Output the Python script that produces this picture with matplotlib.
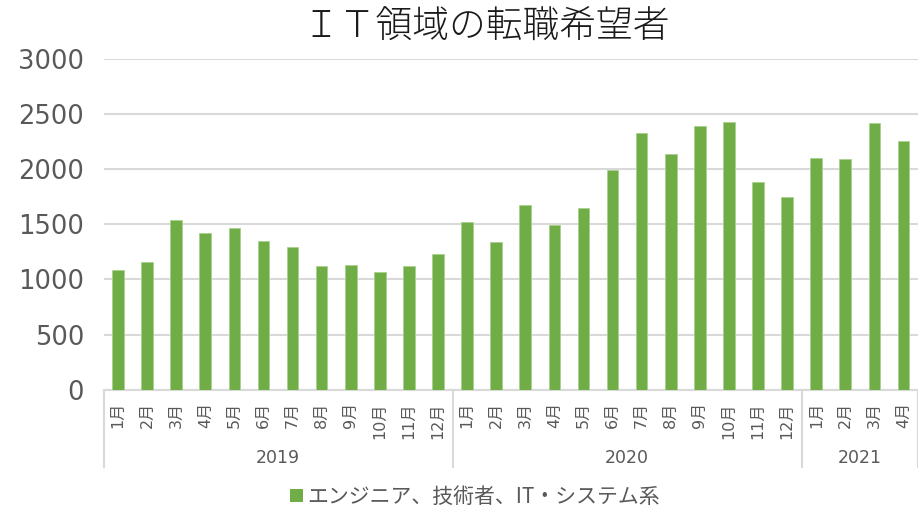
import matplotlib
matplotlib.use("Agg")
import matplotlib.pyplot as plt
from matplotlib.patches import Patch
from matplotlib.transforms import blended_transform_factory

plt.rcParams['font.family'] = ['DejaVu Sans', 'Noto Sans CJK JP']

title = "ＩＴ領域の転職希望者"
series_name = "エンジニア、技術者、IT・システム系"
years = ["2019", "2020", "2021"]
months_per_year = [12, 12, 4]
month_labels = ([f"{m}月" for m in range(1, 13)] + [f"{m}月" for m in range(1, 13)]
                + [f"{m}月" for m in range(1, 5)])
values = [1086, 1156, 1540, 1425, 1470, 1349, 1292, 1125, 1134, 1065, 1125, 1234,
          1525, 1337, 1679, 1495, 1646, 1994, 2327, 2136, 2396, 2426, 1888, 1746,
          2105, 2091, 2417, 2254]
yticks = [0, 500, 1000, 1500, 2000, 2500, 3000]

W, H = 918, 512
fig = plt.figure(figsize=(W / 100, H / 100), dpi=100)
left, right = 103.5 / W, 918 / W
bottom, top = 1 - 389.7 / H, 1 - 59 / H
ax = fig.add_axes([left, bottom, right - left, top - bottom])

green = "#70ad47"
grid_c = "#d9d9d9"
text_c = "#595959"

x = list(range(len(values)))
ax.bar(x, values, width=0.4, color=green, edgecolor="#a9d18e", linewidth=0.6, zorder=3)

ax.set_xlim(-0.5, len(values) - 0.5)
ax.set_ylim(0, 3000)
ax.set_yticks(yticks)
ax.set_yticklabels([str(v) for v in yticks], fontsize=18.5, color=text_c)
ax.tick_params(axis='y', length=0, pad=14)
ax.yaxis.grid(True, color=grid_c, linewidth=1.5, zorder=0)
ax.set_axisbelow(True)
for s in ["top", "right", "left"]:
    ax.spines[s].set_visible(False)
ax.spines["bottom"].set_color(grid_c)
ax.spines["bottom"].set_linewidth(1.5)

ax.set_xticks(x)
ax.set_xticklabels(month_labels, rotation=90, fontsize=11.5, color=text_c, va='top', ha='center')
ax.tick_params(axis='x', length=0, pad=9)

# multi-level category separators and year labels
trans = blended_transform_factory(ax.transData, ax.transAxes)
y_low = (389.7 - 467) / (389.7 - 59)
y_year = (389.7 - 458) / (389.7 - 59)
start = -0.5
for yr, n in zip(years, months_per_year):
    ax.plot([start, start], [0, y_low], transform=trans, color=grid_c, linewidth=1.5, clip_on=False)
    ax.text(start + n / 2, y_year, yr, transform=trans, ha='center', va='center',
            fontsize=12.5, color=text_c)
    start += n
ax.plot([start, start], [0, y_low], transform=trans, color=grid_c, linewidth=1.5, clip_on=False)

fig.text(486 / W, 1 - 28 / H, title, ha='center', va='center', fontsize=26.5,
         color="#1a1a1a", family=['Noto Sans CJK JP', 'DejaVu Sans'], fontweight='light')

handle = Patch(facecolor=green, edgecolor='none')
fig.legend([handle], [series_name], loc='center', bbox_to_anchor=(475 / W, 1 - 497 / H),
           frameon=False, handlelength=0.6, handleheight=0.6, handletextpad=0.2,
           labelcolor=text_c, prop={'family': ['Noto Sans CJK JP', 'DejaVu Sans'], 'size': 15})

fig.savefig("out.png", dpi=100)
